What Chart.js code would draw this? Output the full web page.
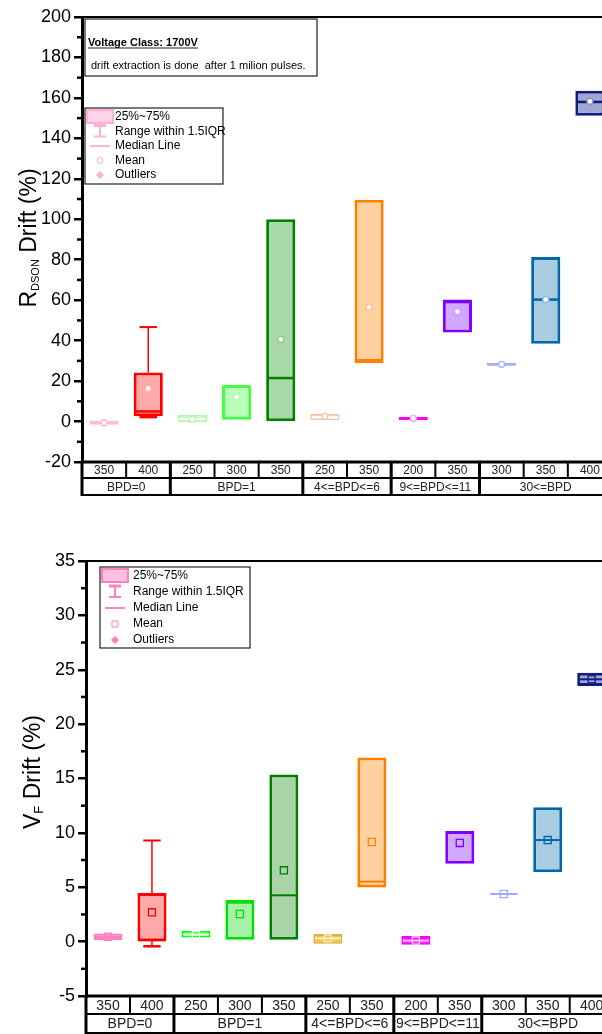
<!DOCTYPE html>
<html>
<head>
<meta charset="utf-8">
<script src="https://cdn.jsdelivr.net/npm/chart.js@4.4.0/dist/chart.umd.min.js"></script>
<style>
  body { margin: 0; overflow: hidden; background: #fff; width: 602px; height: 1034px; }
  canvas { position: absolute; left: 0; }
</style>
</head>
<body>
<canvas id="rdsonChart" width="620" height="500" style="top:0"></canvas>
<canvas id="vfChart" width="620" height="500" style="top:540px"></canvas>
<script>
// categories (temperature) and their BPD groups
const categories = ['350', '400', '250', '300', '350', '250', '350', '200', '350', '300', '350', '400'];
const groupLabels = ['BPD=0', 'BPD=1', '4<=BPD<=6', '9<=BPD<=11', '30<=BPD'];
const groupSpans = [2, 3, 2, 2, 3];

// RDSON drift (%)
const rdsonQ1 = [-1.6, 2.6, -0.2, 0.9, 0.2, 0.6, 28.9, 0.8, 44.0, 27.6, 38.5, 151.2];
const rdsonQ3 = [0.4, 24.2, 3.4, 17.9, 100.0, 3.9, 109.7, 2.3, 60.3, 29.0, 81.3, 163.6];
const rdsonMedian = [-0.6, 5.0, 1.2, 17.4, 21.5, 2.1, 30.3, 1.6, 59.1, 28.3, 60.3, 158.0];
const rdsonMean = [-0.6, 16.3, 1.1, 12.1, 40.6, 2.6, 56.5, 1.6, 54.3, 28.3, 60.3, 158.3];
const rdsonWhiskerLow = [null, 2.2, null, null, null, null, null, null, null, null, null, null];
const rdsonWhiskerHigh = [null, 46.7, null, null, null, null, null, null, null, null, null, null];
const rdsonTicks = { min: -20, max: 200, step: 20 };

// VF drift (%)
const vfQ1 = [0.15, 0.03, 0.37, 0.18, 0.18, -0.2, 4.97, -0.28, 7.17, 4.32, 6.37, 23.5];
const vfQ3 = [0.74, 4.47, 1.0, 3.86, 15.36, 0.7, 16.92, 0.52, 10.17, 4.44, 12.35, 24.73];
const vfMedian = [0.45, 0.12, 0.65, 3.58, 4.26, 0.3, 5.52, 0.1, 9.99, 4.38, 9.34, 24.12];
const vfMean = [0.45, 2.7, 0.65, 2.54, 6.56, 0.3, 9.16, 0.1, 9.07, 4.38, 9.34, 24.12];
const vfWhiskerLow = [null, -0.43, null, null, null, null, null, null, null, null, null, null];
const vfWhiskerHigh = [null, 9.3, null, null, null, null, null, null, null, null, null, null];
const vfTicks = { min: -5, max: 35, step: 5 };

const FONT = 'Arial, "Liberation Sans", sans-serif';

function line(ctx, x1, y1, x2, y2, w) {
  ctx.lineWidth = w;
  ctx.beginPath();
  ctx.moveTo(x1, y1);
  ctx.lineTo(x2, y2);
  ctx.stroke();
}

function makeExtras(cfg) {
  return {
    id: 'boxExtras',
    afterDatasetDraw(chart, args) {
      if (args.index !== 0) return;
      const ctx = chart.ctx, y = chart.scales.y;
      ctx.save();
      args.meta.data.forEach((bar, i) => {
        const half = bar.width / 2;
        const cap = bar.width * 0.3;
        ctx.strokeStyle = cfg.borders[i];
        if (cfg.whiskerHigh[i] != null) {
          const top = y.getPixelForValue(cfg.q3[i]);
          const yw = y.getPixelForValue(cfg.whiskerHigh[i]);
          line(ctx, bar.x, top, bar.x, yw, 1.5);
          line(ctx, bar.x - cap, yw, bar.x + cap, yw, 2);
        }
        if (cfg.whiskerLow[i] != null && cfg.whiskerLow[i] < cfg.q1[i]) {
          const bot = y.getPixelForValue(cfg.q1[i]);
          const yw = y.getPixelForValue(cfg.whiskerLow[i]);
          line(ctx, bar.x, bot, bar.x, yw, 1.5);
          line(ctx, bar.x - cap, yw, bar.x + cap, yw, 2.5);
        }
        ctx.strokeStyle = cfg.medianColors[i];
        const ym = y.getPixelForValue(cfg.median[i]);
        line(ctx, bar.x - half + 1.5, ym, bar.x + half - 1.5, ym, cfg.medianWidth);
      });
      ctx.restore();
    },
    afterDraw(chart) {
      const ctx = chart.ctx, a = chart.chartArea, xs = chart.scales.x, ys = chart.scales.y;
      const n = categories.length, w = (a.right - a.left) / n;
      ctx.save();
      ctx.strokeStyle = '#000';
      ctx.fillStyle = '#000';

      // frame top line
      line(ctx, a.left, a.top, chart.width, a.top, 2);

      // minor ticks
      for (let v = cfg.ticks.min + cfg.ticks.step / 2; v < cfg.ticks.max; v += cfg.ticks.step) {
        const yy = ys.getPixelForValue(v);
        line(ctx, a.left - 5, yy, a.left, yy, 2.5);
      }

      // category table under the axis
      const y0 = a.bottom, y1 = y0 + cfg.row1, y2 = y1 + cfg.row2;
      line(ctx, a.left, y1, chart.width, y1, 2);
      line(ctx, a.left, y2, chart.width, y2, 2);
      for (let i = 1; i < n; i++) {
        const x = xs.getPixelForValue(i) - w / 2;
        line(ctx, x, y0, x, y1, 2);
      }
      ctx.font = cfg.tableFont + 'px ' + FONT;
      ctx.fillStyle = '#222';
      ctx.textAlign = 'center';
      ctx.textBaseline = 'middle';
      categories.forEach((c, i) => ctx.fillText(c, xs.getPixelForValue(i), (y0 + y1) / 2 + 1));
      let k = 0;
      groupSpans.forEach((span, g) => {
        const xl = xs.getPixelForValue(k) - w / 2;
        const xr = xs.getPixelForValue(k + span - 1) + w / 2;
        if (k > 0) line(ctx, xl, y0, xl, y2, 3);
        ctx.fillText(groupLabels[g], (xl + xr) / 2, (y1 + y2) / 2 + 1);
        k += span;
      });
      ctx.fillStyle = '#000';
      line(ctx, a.left, y0, chart.width, y0, 3);
      line(ctx, a.left, a.bottom, a.left, y2 + 1, 3);

      // y title with subscript
      ctx.save();
      ctx.translate(cfg.titleX, cfg.titleY);
      ctx.rotate(-Math.PI / 2);
      ctx.textAlign = 'left';
      ctx.textBaseline = 'alphabetic';
      const big = '23px ' + FONT, small = cfg.subSize + 'px ' + FONT;
      ctx.font = big; const w1 = ctx.measureText(cfg.titleMain).width;
      const w3 = ctx.measureText(cfg.titleRest).width;
      ctx.font = small; const w2 = ctx.measureText(cfg.titleSub).width;
      let x = -(w1 + w2 + w3) / 2;
      ctx.font = big; ctx.fillText(cfg.titleMain, x, 8); x += w1;
      ctx.font = small; ctx.fillText(cfg.titleSub, x, 11); x += w2;
      ctx.font = big; ctx.fillText(cfg.titleRest, x, 8);
      ctx.restore();

      // note box
      if (cfg.note) {
        const nx = a.left + 3, ny = a.top + 2;
        ctx.strokeStyle = '#222';
        ctx.lineWidth = 1.2;
        ctx.strokeRect(nx, ny, 232, 57);
        ctx.textAlign = 'left';
        ctx.textBaseline = 'alphabetic';
        ctx.font = 'bold 11px ' + FONT;
        ctx.fillText(cfg.note[0], nx + 3, ny + 27);
        const nw = ctx.measureText(cfg.note[0]).width;
        line(ctx, nx + 3, ny + 29, nx + 3 + nw, ny + 29, 1);
        ctx.font = '11px ' + FONT;
        ctx.fillText(cfg.note[1], nx + 6, ny + 50);
      }

      // legend box
      const L = cfg.legend;
      const lx = a.left + L.dx, ly = a.top + L.dy;
      ctx.strokeStyle = '#222';
      ctx.lineWidth = 1.2;
      ctx.strokeRect(lx, ly, L.w, L.h);
      const items = ['25%~75%', 'Range within 1.5IQR', 'Median Line', 'Mean', 'Outliers'];
      ctx.font = '12px ' + FONT;
      ctx.textAlign = 'left';
      ctx.textBaseline = 'middle';
      const sx = lx + 15;
      items.forEach((t, i) => {
        const yy = ly + 9 + i * L.gap;
        ctx.fillStyle = '#000';
        ctx.fillText(t, lx + L.textDx, yy);
        ctx.strokeStyle = L.color;
        ctx.fillStyle = L.fill;
        if (i === 0) {
          ctx.fillRect(sx - 13, yy - 7, 26, 13);
          ctx.lineWidth = 2;
          ctx.strokeRect(sx - 13, yy - 7, 26, 13);
        } else if (i === 1) {
          line(ctx, sx - 6, yy - 6, sx + 6, yy - 6, 3);
          line(ctx, sx, yy - 6, sx, yy + 5, 2);
          line(ctx, sx - 6, yy + 5, sx + 6, yy + 5, 2);
        } else if (i === 2) {
          line(ctx, sx - 10, yy, sx + 10, yy, 2);
        } else if (i === 3) {
          ctx.lineWidth = 1;
          ctx.beginPath();
          if (L.meanRect) ctx.rect(sx - 3, yy - 3, 6, 6);
          else ctx.arc(sx, yy, 3, 0, Math.PI * 2);
          ctx.stroke();
        } else {
          ctx.fillStyle = L.color;
          ctx.beginPath();
          ctx.moveTo(sx, yy - 4); ctx.lineTo(sx + 4, yy); ctx.lineTo(sx, yy + 4); ctx.lineTo(sx - 4, yy);
          ctx.closePath();
          ctx.fill();
        }
      });
      ctx.restore();
    }
  };
}

function makeChart(id, cfg) {
  const ctx = document.getElementById(id).getContext('2d');
  return new Chart(ctx, {
    data: {
      labels: categories,
      datasets: [{
        type: 'bar',
        data: cfg.q1.map((v, i) => [v, cfg.q3[i]]),
        backgroundColor: cfg.fills,
        borderColor: cfg.borders,
        borderWidth: cfg.borderWidths,
        borderSkipped: false,
        barPercentage: 0.66,
        categoryPercentage: 1,
        order: 1
      }, {
        type: 'line',
        data: cfg.mean,
        showLine: false,
        pointStyle: cfg.meanStyle,
        pointRadius: cfg.meanRadius,
        pointBackgroundColor: cfg.meanFill,
        pointBorderColor: cfg.meanBorders,
        pointBorderWidth: 1.3,
        order: 0
      }]
    },
    options: {
      responsive: false,
      animation: false,
      devicePixelRatio: 1,
      layout: { padding: cfg.padding },
      plugins: { legend: { display: false }, tooltip: { enabled: false } },
      scales: {
        x: {
          offset: true,
          ticks: { display: false },
          grid: { display: false },
          border: { display: false },
          afterFit(scale) { scale.height = cfg.row1 + cfg.row2; }
        },
        y: {
          min: cfg.ticks.min,
          max: cfg.ticks.max,
          ticks: { stepSize: cfg.ticks.step, color: '#000', padding: 3, font: { size: 18, family: FONT } },
          grid: { drawOnChartArea: false, drawTicks: true, tickLength: 8, lineWidth: 2.5, color: '#000' },
          border: { display: true, color: '#000', width: 3 },
          afterFit(scale) { scale.width = cfg.axisLeft; }
        }
      }
    },
    plugins: [makeExtras(cfg)]
  });
}

makeChart('rdsonChart', {
  q1: rdsonQ1, q3: rdsonQ3, median: rdsonMedian, mean: rdsonMean,
  whiskerLow: rdsonWhiskerLow, whiskerHigh: rdsonWhiskerHigh, ticks: rdsonTicks,
  borders: ['#ffb8d8', '#ff0000', '#b8f2b8', '#40ff40', '#008000', '#f8c4a0', '#ff8000', '#ff00ff', '#8000ff', '#a0b0ff', '#0068a8', '#101c80'],
  fills: ['#ffc8e2', '#ffa8a8', '#c0f8c0', '#b8ffb8', '#a8d8a8', '#f8c8a2', '#ffd0a0', '#ff00ff', '#d0a8ff', '#a0b0ff', '#a8cce0', '#a0a8d0'],
  borderWidths: [2, 3, 2, 3, 3, 2, 3, 2, 3, 2, 3, 3],
  medianColors: ['#ffb8d8', '#ff0000', '#ffffff', '#40ff40', '#008000', '#ffffff', '#ff8000', '#ff00ff', '#8000ff', '#a0b0ff', '#0068a8', '#101c80'],
  medianWidth: 2.5,
  meanStyle: 'circle', meanRadius: 3, meanFill: '#ffffff',
  meanBorders: ['#ffb8d8', '#ffb0b0', '#b8f2b8', '#b0ffb0', '#90c890', '#f8c4a0', '#ffc090', '#ffa0ff', '#c8a0ff', '#a0b0ff', '#90b8d8', '#8890c0'],
  padding: { top: 17, left: 0, right: 8, bottom: 5 },
  axisLeft: 82, row1: 16, row2: 17, tableFont: 12,
  titleX: 28, titleY: 238, titleMain: 'R', titleSub: 'DSON', titleRest: ' Drift (%)', subSize: 11,
  note: ['Voltage Class: 1700V', 'drift extraction is done  after 1 milion pulses.'],
  legend: { dx: 3, dy: 91, w: 138, h: 76, gap: 14.5, textDx: 30, color: '#ffb0d8', fill: '#ffd4e8', meanRect: false }
});

makeChart('vfChart', {
  q1: vfQ1, q3: vfQ3, median: vfMedian, mean: vfMean,
  whiskerLow: vfWhiskerLow, whiskerHigh: vfWhiskerHigh, ticks: vfTicks,
  borders: ['#ff80c0', '#ff0000', '#00ff00', '#00e000', '#008000', '#e0b040', '#ff8000', '#ff00ff', '#8000ff', '#a0a8ff', '#0068a8', '#101c80'],
  fills: ['#ff80c0', '#ffa8a8', '#60ff60', '#a8f0a8', '#a8d4a8', '#f0c050', '#ffd0a0', '#ff00ff', '#d0a8ff', '#a0a8ff', '#a8cce0', '#a0a8d0'],
  borderWidths: [2, 3, 2, 3, 3, 2, 3, 2, 3, 2, 3, 3],
  medianColors: ['#ff80c0', '#ff0000', '#e0ffe0', '#00e000', '#008000', '#fff0c0', '#ff8000', '#ffd0ff', '#8000ff', '#a0a8ff', '#0068a8', '#101c80'],
  medianWidth: 2,
  meanStyle: 'rect', meanRadius: 5, meanFill: 'rgba(0,0,0,0)',
  meanBorders: ['#ff80c0', '#ff0000', '#ffffff', '#00e000', '#008000', '#fff0c0', '#ff8000', '#ffd0ff', '#8000ff', '#a0a8ff', '#0068a8', '#101c80'],
  padding: { top: 21, left: 0, right: 5, bottom: 7 },
  axisLeft: 86, row1: 18, row2: 19, tableFont: 14,
  titleX: 32, titleY: 232, titleMain: 'V', titleSub: 'F', titleRest: ' Drift (%)', subSize: 13,
  note: null,
  legend: { dx: 14, dy: 6, w: 150, h: 81, gap: 16, textDx: 33, color: '#ff80c0', fill: '#ffc0e0', meanRect: true }
});
</script>
</body>
</html>
